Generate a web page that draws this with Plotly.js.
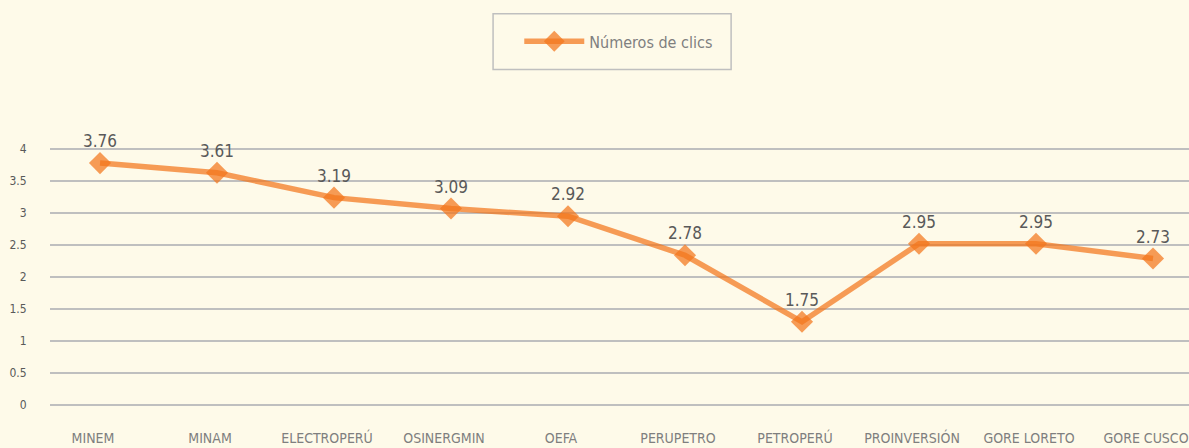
<!DOCTYPE html>
<html>
<head>
<meta charset="utf-8">
<script src="https://cdn.plot.ly/plotly-3.0.1.min.js"></script>
<style>
  html, body { margin: 0; padding: 0; background: #fefae9; }
  #chart { width: 1189px; height: 448px; }
</style>
</head>
<body>
<div id="chart"></div>
<script>
// Categories (x axis)
const categories = ["MINEM", "MINAM", "ELECTROPERÚ", "OSINERGMIN", "OEFA", "PERUPETRO", "PETROPERÚ", "PROINVERSIÓN", "GORE LORETO", "GORE CUSCO"];
// Plotted positions
const values = [3.78, 3.63, 3.24, 3.07, 2.95, 2.34, 1.30, 2.52, 2.52, 2.29];
// Data labels as printed on the chart
const labels = ["3.76", "3.61", "3.19", "3.09", "2.92", "2.78", "1.75", "2.95", "2.95", "2.73"];
const seriesName = "Números de clics";

const FONT = "'Liberation Sans Narrow', 'DejaVu Sans Condensed', 'Arial Narrow', sans-serif";

const trace = {
  x: categories.map((c, i) => i),
  y: values,
  text: labels,
  name: seriesName,
  type: "scatter",
  mode: "lines+markers+text",
  textposition: "top center",
  textfont: { family: FONT, size: 17, color: "#595959" },
  line: { color: "rgba(242,118,28,0.72)", width: 5.5 },
  marker: { symbol: "diamond", size: 17, color: "rgba(242,118,28,0.72)", line: { width: 0 } },
  hoverinfo: "x+y",
  cliponaxis: false
};

const layout = {
  width: 1189,
  height: 448,
  paper_bgcolor: "#fefae9",
  plot_bgcolor: "#fefae9",
  margin: { l: 50, r: 0, t: 130, b: 41 },
  font: { family: FONT, color: "#7f7f7f" },
  showlegend: true,
  legend: {
    x: 0.412, xanchor: "left",
    y: 1.32, yanchor: "middle",
    orientation: "h",
    itemwidth: 60,
    bgcolor: "rgba(0,0,0,0)",
    borderwidth: 0,
    font: { family: FONT, size: 16, color: "#7f7f7f" }
  },
  shapes: [{
    type: "rect", xref: "paper", yref: "paper",
    x0: 0.389, x1: 0.598, y0: 1.2185, y1: 1.4195,
    line: { color: "#bfbfbf", width: 1.5 },
    fillcolor: "rgba(0,0,0,0)"
  }],
  xaxis: {
    range: [-0.4274, 9.3077],
    tickmode: "array",
    tickvals: categories.map((c, i) => i),
    ticktext: categories,
    showgrid: false,
    zeroline: false,
    showline: false,
    ticks: "outside",
    ticklen: 18,
    tickcolor: "rgba(0,0,0,0)",
    ticklabeloverflow: "allow",
    ticklabelshift: -7,
    tickfont: { family: FONT, size: 14, color: "#7f7f7f" },
    fixedrange: true
  },
  yaxis: {
    range: [-0.03125, 4.297],
    dtick: 0.5,
    tick0: 0,
    showgrid: true,
    gridcolor: "#bfbfbf",
    gridwidth: 2,
    zeroline: false,
    showline: false,
    ticks: "outside",
    ticklen: 20,
    tickcolor: "rgba(0,0,0,0)",
    tickfont: { family: FONT, size: 12, color: "#595959" },
    fixedrange: true
  }
};

Plotly.newPlot("chart", [trace], layout, { displayModeBar: false, staticPlot: true });
</script>
</body>
</html>
